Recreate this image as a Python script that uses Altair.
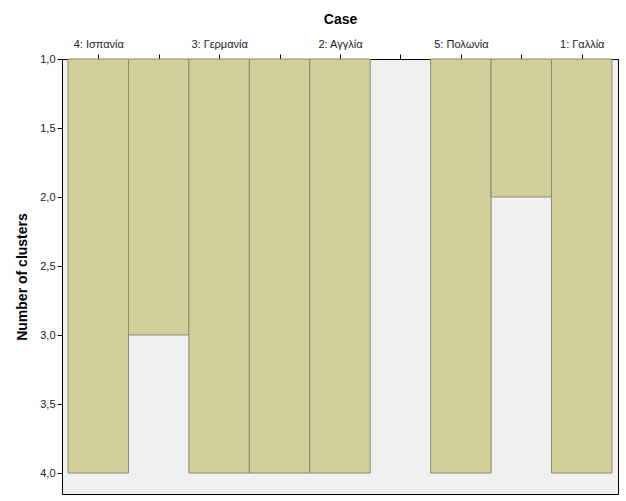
import altair as alt
import pandas as pd

# Icicle plot data (columns alternate: case, join between neighbours)
case_labels = ["4: Ισπανία", "3: Γερμανία", "2: Αγγλία", "5: Πολωνία", "1: Γαλλία"]
case_bar_end = [4.0, 4.0, 4.0, 4.0, 4.0]          # cases extend down to 4 clusters
join_bar_end = [3.0, 4.0, None, 2.0]              # joins between neighbouring cases
y_ticks = [1.0, 1.5, 2.0, 2.5, 3.0, 3.5, 4.0]

rows = []
col_labels = []
for i, lab in enumerate(case_labels):
    col = 2 * i
    col_labels.append(lab)
    rows.append({"col": col, "x0": col, "x1": col + 1, "y0": 1.0, "y1": case_bar_end[i]})
    if i < len(join_bar_end):
        col_labels.append("")
        if join_bar_end[i] is not None:
            rows.append({"col": col + 1, "x0": col + 1, "x1": col + 2, "y0": 1.0, "y1": join_bar_end[i]})
df = pd.DataFrame(rows)

n_cols = len(col_labels)
tick_vals = [c + 0.5 for c in range(n_cols)]
label_map = "{" + ",".join(f"'{c + 0.5}': '{l}'" for c, l in enumerate(col_labels)) + "}"

chart = alt.Chart(df).mark_rect(
    fill="#D3CF9B", stroke="#8C8A70", strokeWidth=1
).encode(
    x=alt.X("x0:Q", scale=alt.Scale(domain=[-0.1, n_cols + 0.1], nice=False, zero=False),
            axis=alt.Axis(orient="top", values=tick_vals, title="Case",
                          labelExpr=f"{label_map}[toString(datum.value)] || ''",
                          grid=False, tickSize=5, labelPadding=5, titlePadding=12,
                          domain=True, domainColor="black", tickColor="black",
                          labelFont="Liberation Sans", labelFontSize=11, labelColor="#222",
                          titleFont="Liberation Sans", titleFontSize=14, titleFontWeight="bold",
                          titleColor="black", labelAngle=0)),
    x2="x1:Q",
    y=alt.Y("y0:Q", scale=alt.Scale(domain=[1.0, 4.152], reverse=True, nice=False, zero=False),
            axis=alt.Axis(values=y_ticks, title="Number of clusters",
                          labelExpr="replace(format(datum.value, '.1f'), '.', ',')",
                          grid=False, tickSize=5, labelPadding=2, titlePadding=10,
                          domainColor="black", tickColor="black",
                          labelFont="Liberation Sans", labelFontSize=11, labelColor="#222",
                          titleFont="Liberation Sans", titleFontSize=14, titleFontWeight="bold",
                          titleColor="black")),
    y2="y1:Q",
).properties(
    width=556, height=435,
    padding={"left": 62, "top": 59, "right": 8, "bottom": 7},
    autosize=alt.AutoSizeParams(type="none"),
    background="white",
).configure_view(
    fill="#F0F0F0", stroke="black", strokeWidth=1
)

chart.save("out.html", embed_options={"renderer": "svg", "actions": False})
